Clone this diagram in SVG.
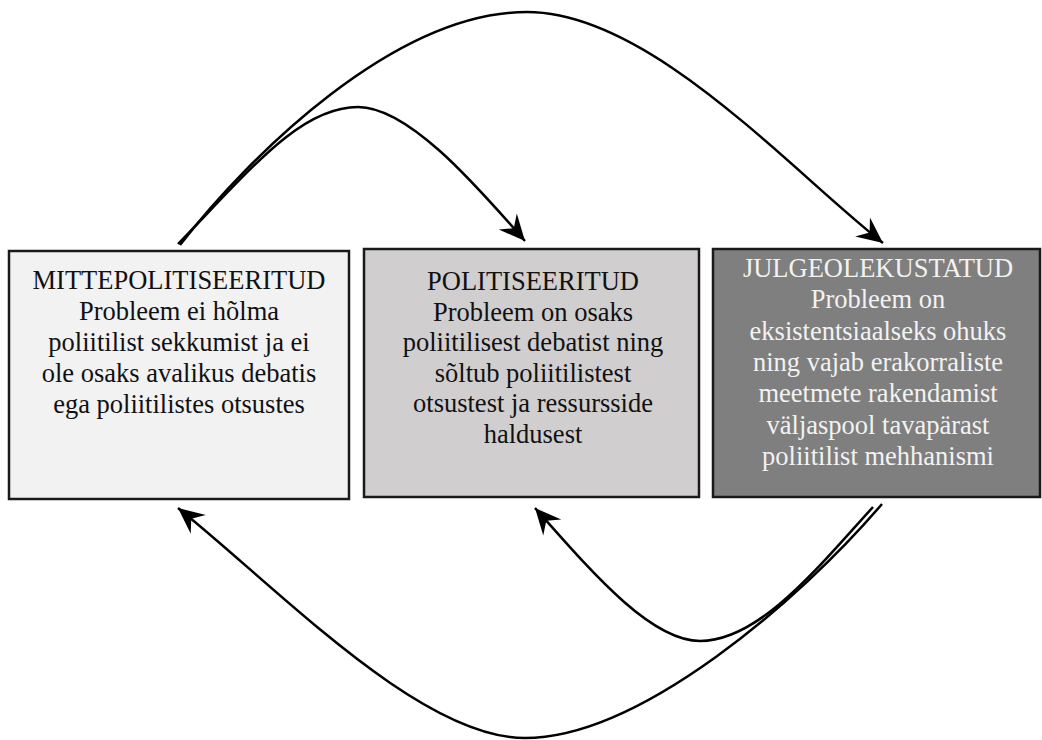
<svg xmlns="http://www.w3.org/2000/svg" width="1042" height="740" viewBox="0 0 1042 740">
<style>
.box{stroke:#1a1a1a;stroke-width:2.5}
text{font-family:"Liberation Serif",serif;font-size:26.5px;text-anchor:middle;fill:#111}
text.w{fill:#f2f2f2}
.c{fill:none;stroke:#000;stroke-width:2.5;marker-end:url(#ah)}
</style>
<defs>
<marker id="ah" viewBox="-28 -14 30 28" refX="0" refY="0" markerWidth="30" markerHeight="28" markerUnits="userSpaceOnUse" orient="auto">
<path d="M0,0 L-26,-12 L-17,0 L-26,12 Z" fill="#000"/>
</marker>
</defs>
<rect width="1042" height="740" fill="#fff"/>
<g id="n1" font-family="Liberation Serif, serif">
<rect class="box" x="9" y="251" width="340" height="248" fill="#f2f2f2"/>
<text x="179" y="289">MITTEPOLITISEERITUD</text>
<text x="179" y="320">Probleem ei hõlma</text>
<text x="179" y="351">poliitilist sekkumist ja ei</text>
<text x="179" y="382">ole osaks avalikus debatis</text>
<text x="179" y="413">ega poliitilistes otsustes</text>
</g>
<g id="n2" font-family="Liberation Serif, serif">
<rect class="box" x="364" y="249" width="335" height="248" fill="#d0cece"/>
<text x="533" y="290">POLITISEERITUD</text>
<text x="533" y="320.5">Probleem on osaks</text>
<text x="533" y="351">poliitilisest debatist ning</text>
<text x="533" y="381.5">sõltub poliitilistest</text>
<text x="533" y="412">otsustest ja ressursside</text>
<text x="533" y="442.5">haldusest</text>
</g>
<g id="n3" font-family="Liberation Serif, serif">
<rect class="box" x="713" y="249" width="327" height="248" fill="#7f7f7f"/>
<text class="w" x="878" y="277">JULGEOLEKUSTATUD</text>
<text class="w" x="878" y="308.3">Probleem on</text>
<text class="w" x="878" y="339.6">eksistentsiaalseks ohuks</text>
<text class="w" x="878" y="370.9">ning vajab erakorraliste</text>
<text class="w" x="878" y="402.2">meetmete rakendamist</text>
<text class="w" x="878" y="433.5">väljaspool tavapärast</text>
<text class="w" x="878" y="464.8">poliitilist mehhanismi</text>
</g>
<g id="connectors">
<path class="c" d="M178,244 C250,170 300,107 358,107 C410,107 480,190 525,241"/>
<path class="c" d="M180,245 C250,155 395,12 527,12 C650,12 790,170 883,243"/>
<path class="c" d="M873,507 C820,565 760,641 700,641 C650,641 590,570 535,508"/>
<path class="c" d="M882,504 C800,600 640,738 525,738 C420,738 280,590 178,508"/>
</g>
</svg>
